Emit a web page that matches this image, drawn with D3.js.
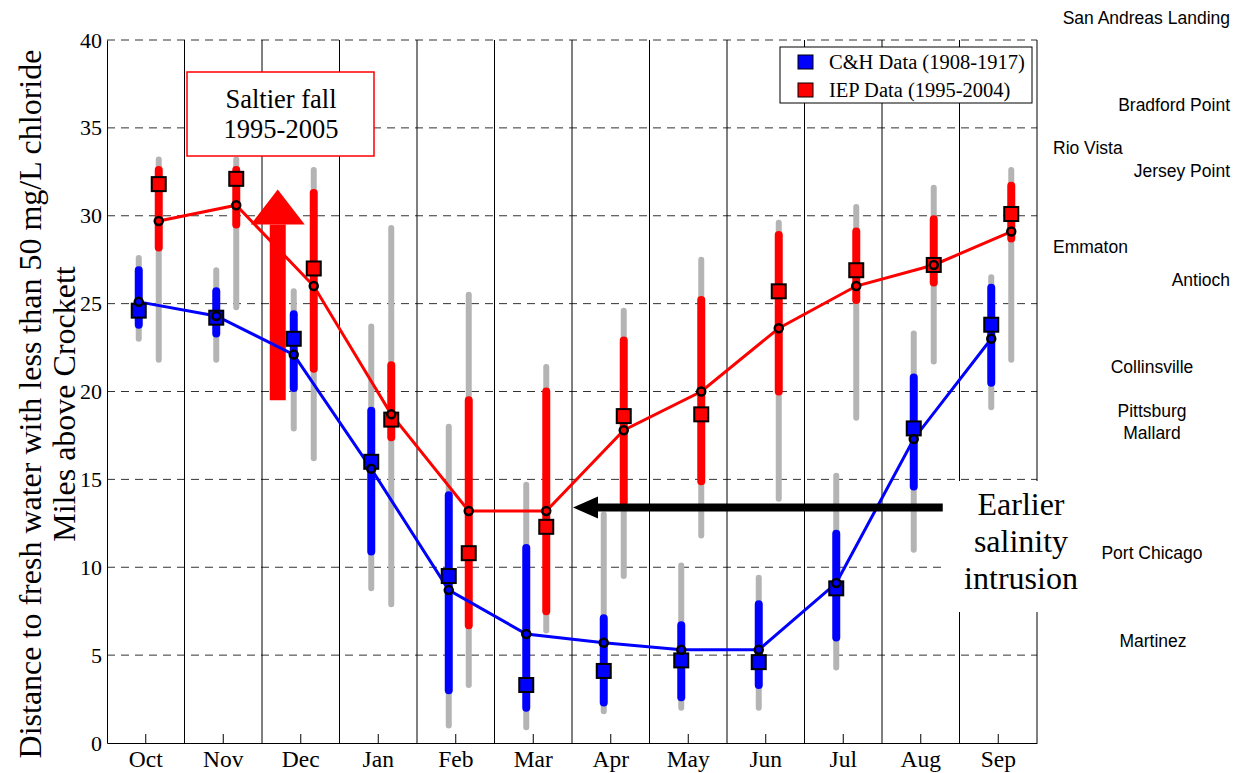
<!DOCTYPE html>
<html><head><meta charset="utf-8">
<script src="https://cdn.jsdelivr.net/npm/d3@7"></script>
<style>body{margin:0;background:#fff}svg{display:block}</style>
</head><body>
<script>
const months = ["Oct","Nov","Dec","Jan","Feb","Mar","Apr","May","Jun","Jul","Aug","Sep"];
const yTicks = [0,5,10,15,20,25,30,35,40];
// C&H Data (1908-1917)
const chSquare = [24.6,24.2,23.0,16.0,9.5,3.3,4.1,4.7,4.6,8.8,17.9,23.8];
const chCircle = [25.1,24.3,22.1,15.6,8.7,6.2,5.7,5.3,5.3,9.1,17.3,23.0];
const chLo     = [23.8,23.3,20.2,10.9,3.0,2.0,2.3,2.6,3.3,6.0,14.6,20.5];
const chHi     = [26.9,25.7,24.4,18.9,14.1,11.1,7.1,6.7,7.9,11.9,20.8,25.9];
const chGrayLo = [23.0,21.8,17.9,8.8,1.0,0.9,1.8,2.0,2.0,4.3,11.0,19.1];
const chGrayHi = [27.6,26.9,25.7,23.7,18.0,14.7,13.0,10.1,9.4,15.2,23.3,26.5];
// IEP Data (1995-2004)
const iepSquare = [31.8,32.1,27.0,18.4,10.8,12.3,18.6,18.7,25.7,26.9,27.2,30.1];
const iepCircle = [29.7,30.6,26.0,18.7,13.2,13.2,17.8,20.0,23.6,26.0,27.2,29.1];
const iepLo     = [28.2,29.5,21.3,17.4,6.7,7.5,13.7,14.9,20.0,25.2,26.2,28.7];
const iepHi     = [32.6,32.6,31.3,21.5,19.5,20.0,22.9,25.2,28.9,29.1,29.8,31.7];
const iepGrayLo = [21.8,24.8,16.2,7.9,3.3,6.4,9.5,11.8,13.9,18.5,21.7,21.8];
const iepGrayHi = [33.2,33.2,32.6,29.3,25.5,21.4,24.6,27.5,29.6,30.5,31.6,32.6];
const legendLabels = ["C&H Data (1908-1917)","IEP Data (1995-2004)"];
const stations = [
  {name:"San Andreas Landing", x:1230, y:17, anchor:"end"},
  {name:"Bradford Point", x:1230, y:104, anchor:"end"},
  {name:"Rio Vista", x:1053, y:147, anchor:"start"},
  {name:"Jersey Point", x:1230, y:170, anchor:"end"},
  {name:"Emmaton", x:1053, y:246, anchor:"start"},
  {name:"Antioch", x:1230, y:279, anchor:"end"},
  {name:"Collinsville", x:1152, y:366, anchor:"middle"},
  {name:"Pittsburg", x:1152, y:410, anchor:"middle"},
  {name:"Mallard", x:1152, y:432, anchor:"middle"},
  {name:"Port Chicago", x:1152, y:552, anchor:"middle"},
  {name:"Martinez", x:1153, y:640, anchor:"middle"}
];

const W = 1241, H = 773;
const L = 107, R = 1037, T = 40, B = 743;
const serif = "'Liberation Serif','Times New Roman',serif";
const sans = "'Liberation Sans',Arial,sans-serif";

const svg = d3.select("body").append("svg").attr("width", W).attr("height", H);
const x = d3.scaleBand().domain(months).range([L, R]).padding(0);
const y = d3.scaleLinear().domain([0, 40]).range([B, T]);
const cx = m => x(m) + x.bandwidth()/2;
const offB = -7, offR = 13;

// horizontal dashed grid
svg.append("g").selectAll("line").data(yTicks.filter(v => v > 0)).join("line")
  .attr("x1", L).attr("x2", R).attr("y1", d => y(d)).attr("y2", d => y(d))
  .attr("stroke", "#333").attr("stroke-width", 1).attr("stroke-dasharray", "8,6");
// vertical month separators
svg.append("g").selectAll("line").data(months).join("line")
  .attr("x1", d => x(d) + x.bandwidth()).attr("x2", d => x(d) + x.bandwidth())
  .attr("y1", T).attr("y2", B).attr("stroke", "#000").attr("stroke-width", 1);

// y axis
const yAxis = svg.append("g").attr("transform", `translate(${L},0)`)
  .call(d3.axisLeft(y).tickValues(yTicks).tickSize(0).tickPadding(5));
yAxis.select(".domain").attr("stroke", "#000");
yAxis.selectAll("text").attr("font-family", serif).attr("font-size", 22).attr("fill", "#000");
// x axis
const xAxis = svg.append("g").attr("transform", `translate(0,${B})`)
  .call(d3.axisBottom(x).tickSize(-9).tickPadding(7).tickSizeOuter(0));
xAxis.select(".domain").attr("stroke", "#000");
xAxis.selectAll("text").attr("font-family", serif).attr("font-size", 23.5).attr("fill", "#000");

// white box behind annotation text (hides grid)
svg.append("rect").attr("x", 943).attr("y", 481).attr("width", 100).attr("height", 131).attr("fill", "#fff");

const barG = svg.append("g").attr("stroke-linecap", "round");
function bars(lo, hi, off, color, w) {
  barG.append("g").selectAll("line").data(months).join("line")
    .attr("x1", (d) => cx(d) + off).attr("x2", d => cx(d) + off)
    .attr("y1", (d, i) => y(lo[i])).attr("y2", (d, i) => y(hi[i]))
    .attr("stroke", color).attr("stroke-width", w);
}
bars(chGrayLo, chGrayHi, offB, "#b4b4b4", 6);
bars(iepGrayLo, iepGrayHi, offR, "#b4b4b4", 6);
bars(chLo, chHi, offB, "#0000ff", 8);
bars(iepLo, iepHi, offR, "#ff0000", 8);

// red annotation arrow (Saltier fall)
const arX = cx("Dec") - 23;
svg.append("line").attr("x1", arX).attr("x2", arX).attr("y1", y(19.5)).attr("y2", y(29.5))
  .attr("stroke", "#ff0000").attr("stroke-width", 16);
svg.append("path").attr("d", `M${arX-27},${y(29.5)}L${arX+27},${y(29.5)}L${arX},${y(31.5)}Z`).attr("fill", "#ff0000");

// lines
const lineGen = (vals, off) => d3.line().x((d, i) => cx(months[i]) + off).y(d => y(d))(vals);
svg.append("path").attr("d", lineGen(chCircle, offB)).attr("fill", "none").attr("stroke", "#0000ff").attr("stroke-width", 3);
svg.append("path").attr("d", lineGen(iepCircle, offR)).attr("fill", "none").attr("stroke", "#ff0000").attr("stroke-width", 3);

function squares(vals, off, color) {
  svg.append("g").selectAll("rect").data(vals).join("rect")
    .attr("x", (d, i) => cx(months[i]) + off - 7).attr("y", d => y(d) - 7)
    .attr("width", 14).attr("height", 14).attr("fill", color)
    .attr("stroke", "#000").attr("stroke-width", 2);
}
function circles(vals, off, color) {
  svg.append("g").selectAll("circle").data(vals).join("circle")
    .attr("cx", (d, i) => cx(months[i]) + off).attr("cy", d => y(d)).attr("r", 4)
    .attr("fill", color).attr("stroke", "#000").attr("stroke-width", 2.5);
}
squares(chSquare, offB, "#0000ff");
squares(iepSquare, offR, "#ff0000");
circles(chCircle, offB, "#0000ff");
circles(iepCircle, offR, "#ff0000");

// black arrow (Earlier salinity intrusion)
const bx1 = cx("Aug") + 22, bx2 = x("Apr") + 1, by = y(13.4);
svg.append("line").attr("x1", bx1).attr("x2", bx2 + 22).attr("y1", by).attr("y2", by)
  .attr("stroke", "#000").attr("stroke-width", 8);
svg.append("path").attr("d", `M${bx2},${by}L${bx2+25},${by-11}L${bx2+25},${by+11}Z`).attr("fill", "#000");

// Earlier salinity intrusion text
const et = svg.append("text").attr("font-family", serif).attr("font-size", 32).attr("text-anchor", "middle");
["Earlier","salinity","intrusion"].forEach((t, i) =>
  et.append("tspan").attr("x", 1021).attr("y", 515 + i*37).text(t));

// Saltier fall box
svg.append("rect").attr("x", 187).attr("y", 72).attr("width", 187).attr("height", 84)
  .attr("fill", "#fff").attr("stroke", "#ff0000").attr("stroke-width", 1.5);
const st = svg.append("text").attr("font-family", serif).attr("font-size", 26.5).attr("text-anchor", "middle");
st.append("tspan").attr("x", 281).attr("y", 108).text("Saltier fall");
st.append("tspan").attr("x", 281).attr("y", 138).text("1995-2005");

// legend
const lg = svg.append("g");
lg.append("rect").attr("x", 780).attr("y", 47).attr("width", 252).attr("height", 56)
  .attr("fill", "#fff").attr("stroke", "#000").attr("stroke-width", 1);
[["#0000ff", 0], ["#ff0000", 1]].forEach(([c, i]) => {
  lg.append("rect").attr("x", 798).attr("y", 55 + i*28).attr("width", 15).attr("height", 14)
    .attr("fill", c).attr("stroke", "#000").attr("stroke-width", 1);
  lg.append("text").attr("x", 829).attr("y", 69 + i*28).attr("font-family", serif).attr("font-size", 20.5)
    .text(legendLabels[i]);
});

// station labels
svg.append("g").selectAll("text").data(stations).join("text")
  .attr("x", d => d.x).attr("y", d => d.y + 6.5).attr("text-anchor", d => d.anchor)
  .attr("font-family", sans).attr("font-size", 17.5).attr("fill", "#000").text(d => d.name);

// y title
const yt = svg.append("text").attr("font-family", serif).attr("font-size", 32).attr("text-anchor", "middle")
  .attr("transform", "translate(0,404) rotate(-90)");
yt.append("tspan").attr("x", 0).attr("y", 41).text("Distance to fresh water with less than 50 mg/L chloride");
yt.append("tspan").attr("x", 0).attr("y", 75).text("Miles above Crockett");
</script>
</body></html>
